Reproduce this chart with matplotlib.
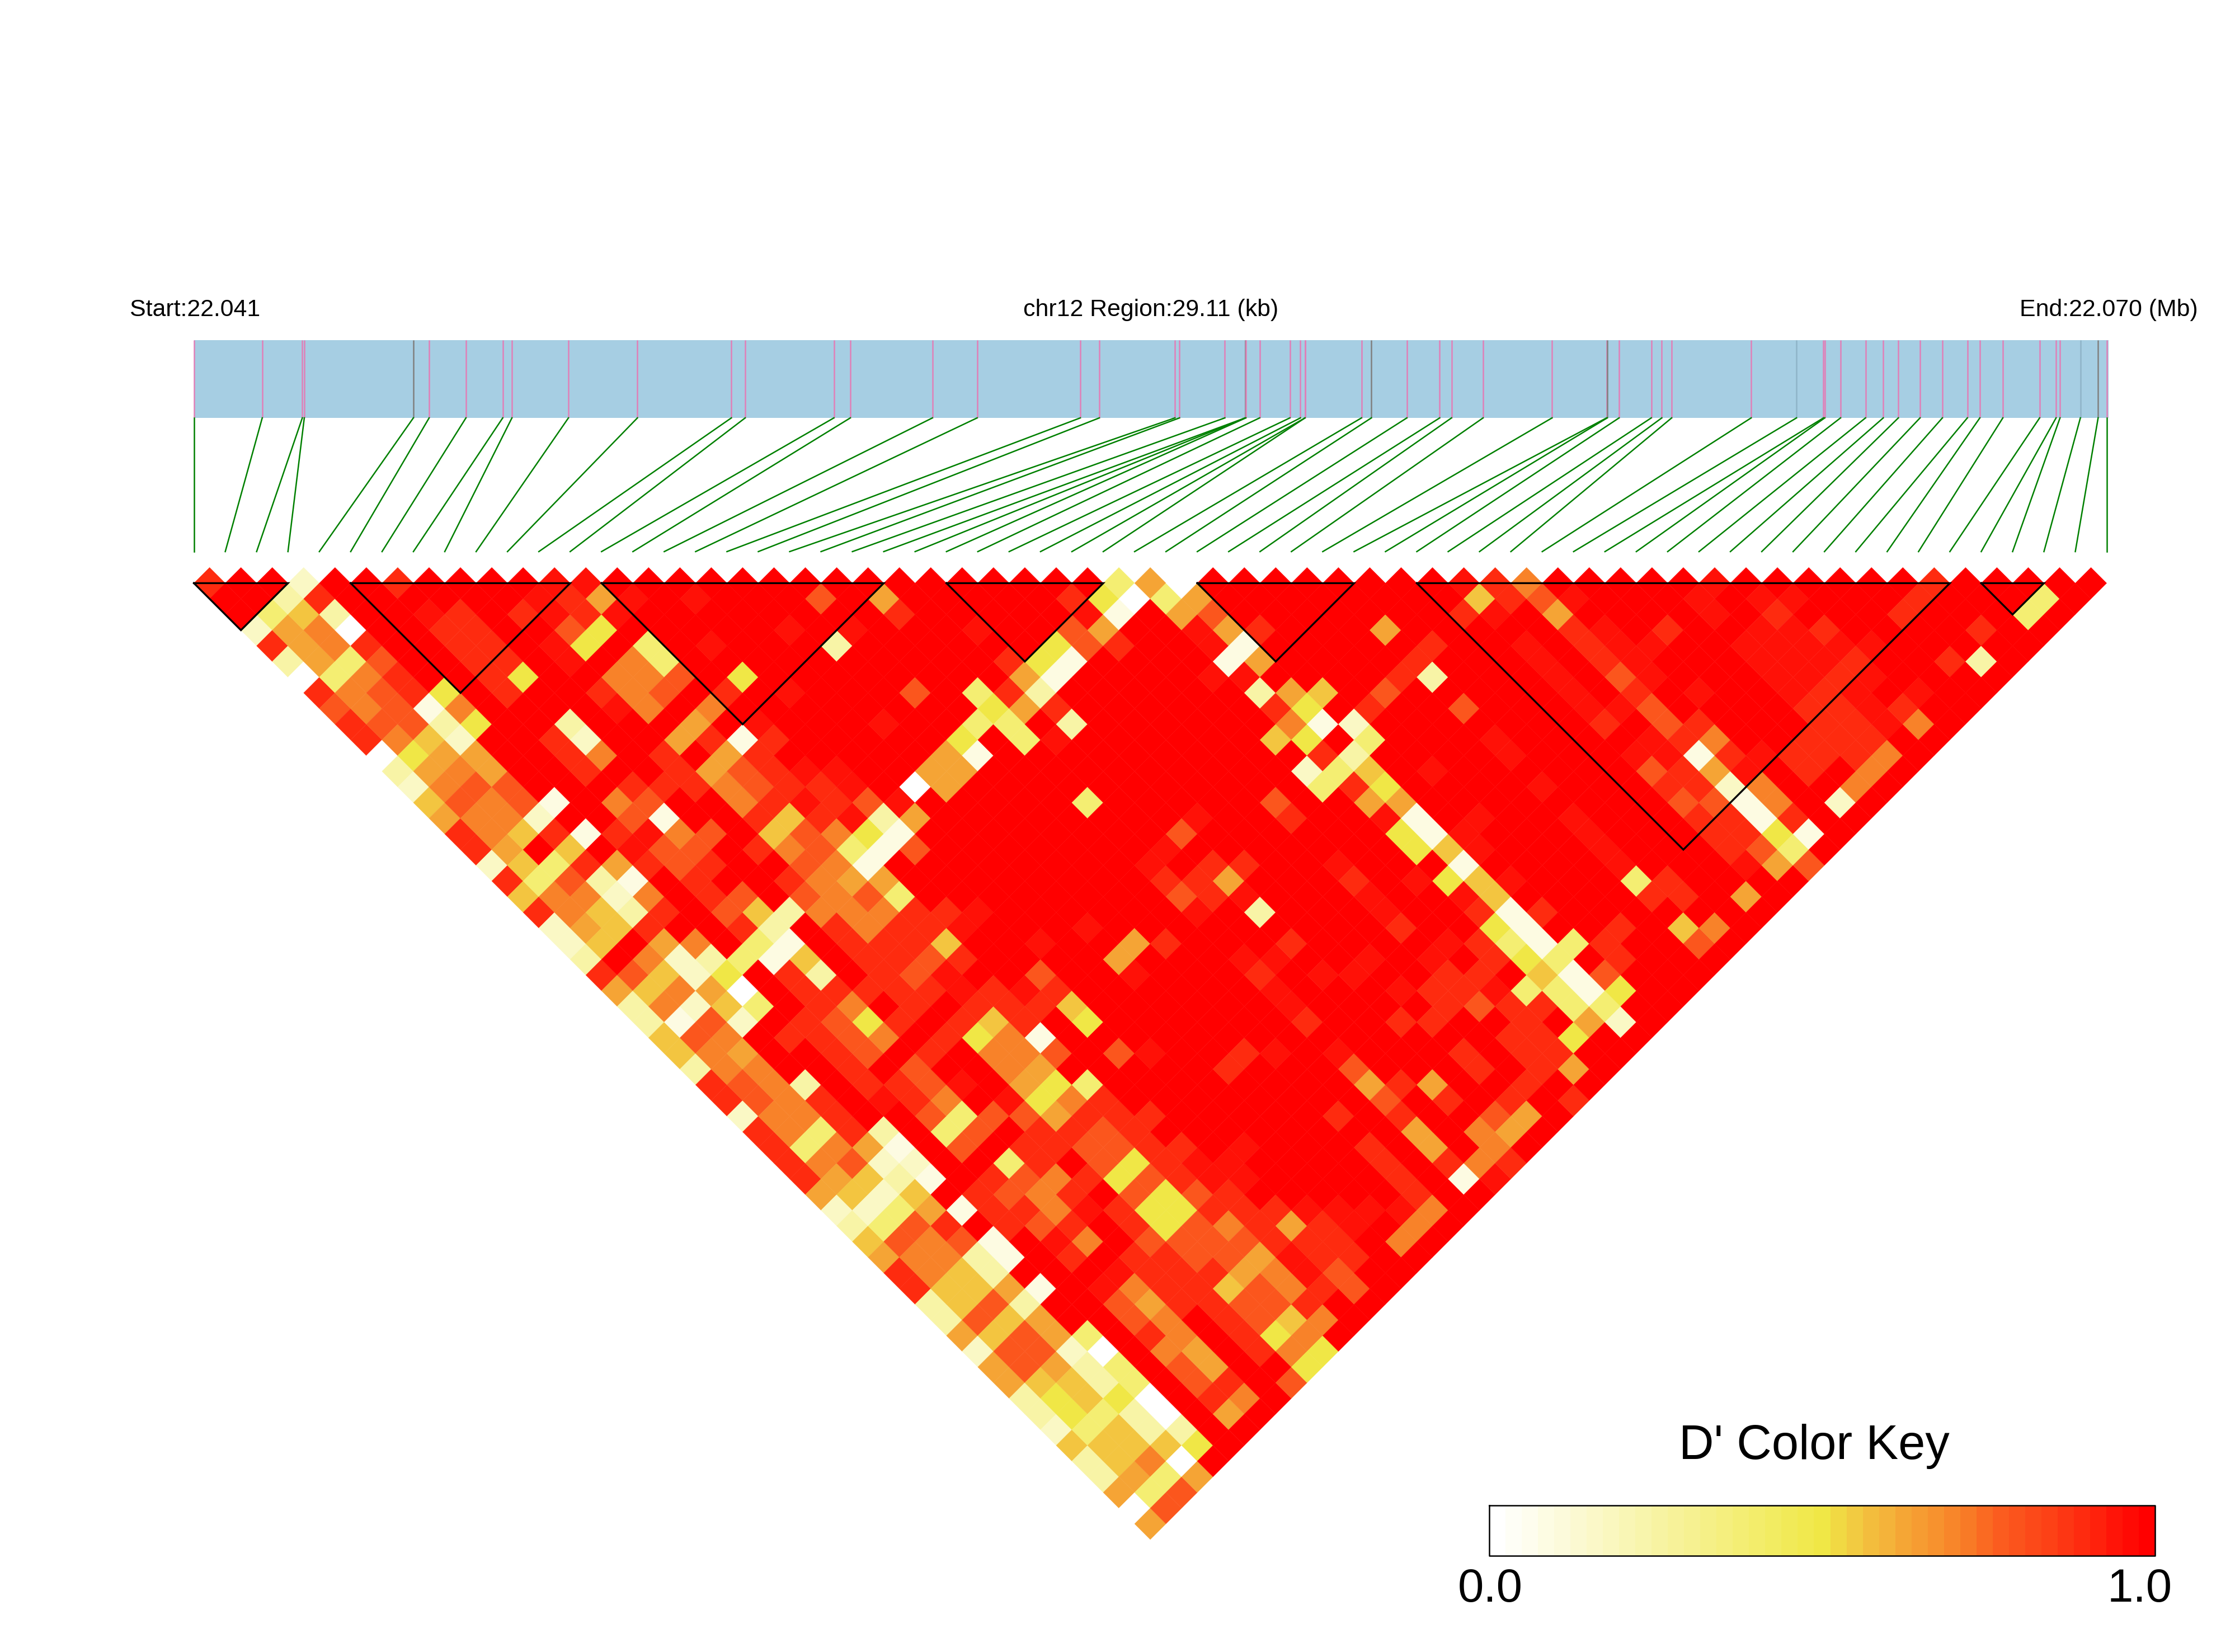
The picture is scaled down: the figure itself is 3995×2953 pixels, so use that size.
#!/usr/bin/env python3
# LD heatmap of chr12 region (D') with gene track and block outlines
import numpy as np
import matplotlib
matplotlib.use("Agg")
import matplotlib.pyplot as plt
from matplotlib.collections import PolyCollection
from matplotlib.colors import LinearSegmentedColormap

plt.rcParams['font.family'] = ['Liberation Sans', 'DejaVu Sans']

# SNP positions inside the region, kb from the start
snp_kb = [0.00, 1.04, 1.65, 1.68, 3.34, 3.58, 4.14, 4.70, 4.84, 5.70, 6.75, 8.18, 8.39,
          9.74, 9.99, 11.24, 11.92, 13.49, 13.78, 14.93, 15.00, 15.69, 16.00, 16.00, 16.01,
          16.22, 16.68, 16.84, 16.91, 16.91, 17.77, 17.92, 18.46, 18.96, 19.14, 19.62, 20.67,
          21.50, 21.51, 21.69, 22.18, 22.34, 22.49, 23.70, 24.39, 24.80, 24.82, 25.06, 25.44,
          25.71, 25.94, 26.27, 26.61, 26.99, 27.18, 27.53, 28.09, 28.34, 28.40, 28.71, 28.98, 29.11]
# these SNPs get a grey tick instead of a pink one
grey_snps = [4, 23, 31, 38, 60]
# and these one that nearly disappears in the bar
faint_snps = [44, 59]
region_kb = 29.11

# D' levels used by the codes below
code_values = {'0': 0.0, '1': 0.08, '2': 0.16, '3': 0.24, '4': 0.38, '5': 0.5, '6': 0.56,
               '7': 0.63, '8': 0.71, '9': 0.79, 'A': 0.90, 'B': 0.96}

# one string per SNP distance (1, 2, ...): "<first snp><code>", pairs not listed have D' = 1
dprime_by_distance = [
    "0A 32 6A 11B 12B 294 307 310 40B 41A 428 48B 55A",
    "23 3A 10B 11A 127 13B 15B 199 217 27A 285 290 304 317 406 41A 429 43B 47B 49B 50B 54A 584",
    "14 26 33 6B 7A 9A 10B 11A 12B 21A 27B 281 307 319 39A 40B 427 47B 49A 53A 574",
    "02 17 28 30 6A 7A 109 115 17B 19B 23B 269 277 30B 317 32A 367 42A 43B 45A 48B 49B 50A 55A",
    "0A 17 28 3A 6A 7A 9B 105 124 14B 183 255 269 27A 30B 311 37A 40B 42A 43B 44B 47B 48B 49B 50B 51B",
    "03 17 24 39 6A 7A 9B 118 124 23A 245 251 301 317 36A 40B 42A 43B 47B 48B 49B 50A 53A 543",
    "00 14 28 3A 6A 75 108 118 129 145 237 241 29B 30B 35A 363 40B 429 43B 47B 48B 49A 50B",
    "0A 18 29 3A 45 6A 9A 108 119 13A 15B 199 214 22A 233 303 317 326 349 40B 42A 44B 47B 48A 49B 51B",
    "09 18 29 31 48 9B 108 128 215 227 23A 30A 315 33A 369 40B 41B 429 47A 48A 49B 50A",
    "0A 19 29 33 45 73 117 13B 17B 204 214 233 308 311 322 40A 429 43A 47A 48A 49B 508",
    "0A 18 26 32 6A 72 107 11A 121 13A 195 214 22B 296 305 324 36B 41B 42A 438 46A 47A 48A",
    "00 15 27 37 6A 78 9A 117 12A 187 191 30A 313 36B 40B 41B 421 43A 44B 45A 46A 47A 488",
    "03 17 28 37 6A 9A 107 119 12A 13B 14B 177 187 292 304 316 33B 409 41A 427 43B 45A 478",
    "02 18 29 39 7A 8A 9A 108 119 12A 13A 14B 160 177 294 30A 315 36B 40A 41A 422 438 468",
    "06 19 28 39 41 68 79 108 11A 12B 13A 149 15B 214 279 307 317 409 419 421 438 452",
    "07 18 28 32 69 71 10A 116 12A 13B 143 157 24B 27A 30B 311 33B 36B 40A 41A 421 43A",
    "0A 18 26 3A 41 5A 6B 78 89 106 119 128 135 141 239 305 311 32B 36B 40A 41A 425 431",
    "0A 17 36 5B 69 79 9A 108 119 124 131 149 22B 305 316 32B 36B 40A 419 424",
    "02 16 24 3A 47 5A 69 7A 109 118 121 21B 23A 24A 27B 311 36B 40B 417 429",
    "0A 14 29 33 41 6A 9A 108 117 127 21A 22A 237 27A 29B 305 316 32B 364 37A",
    "06 18 28 32 48 6A 79 99 108 119 124 219 22A 23B 27B 30B 316 36A 37A 397",
    "0A 18 26 33 4A 69 76 83 98 108 118 12A 13A 14B 21B 233 27B 30A 311 32A",
    "02 17 26 3A 6A 73 9A 108 11A 12A 13B 17B 27A 305 311 34A 366 378",
    "02 16 37 48 64 71 9A 10A 11A 126 15B 187 19A 23A 28B 29A 304 311 324 33A 369",
    "03 28 32 43 54 61 76 9A 10A 119 12A 177 21B 22B 25B 27B 29A 305 314 33A",
    "0A 19 26 32 45 6A 73 9A 109 11B 149 17B 21A 23B 24B 27A 28A 306 311 329",
    "07 16 28 37 40 6A 7A 8A 9A 10A 11B 12A 13B 14A 21B 25B 26A 27A 28B 294 304 311 325",
    "03 18 22 36 44 6A 78 9A 11A 12A 13A 146 21B 26A 279 28A 29A 304 314",
    "03 11 29 32 5A 69 75 8A 10A 116 12A 145 21A 24A 25A 28A 307 312",
    "06 19 28 4A 5A 69 78 9A 105 118 121 27A 28A 295",
    "06 18 27 5A 69 8A 108 118 129 149 15B 18A 19B 21B 25A 27A 28A",
    "03 18 28 5A 79 108 117 17A 219 25A 27A 287",
    "0A 19 28 33 5A 6A 79 8B 107 115 124 217 22A 237 26A",
    "0A 19 28 3A 5B 6A 78 9B 105 118 12A 219 23A 25A 27A",
    "02 18 28 3A 69 74 89 99 107 11A 12A 13A 19A 21A 249 257",
    "0A 18 24 3A 43 64 79 9A 10A 119 12A 217 238 247",
    "0A 14 28 37 41 69 8A 9A 109 119 12A 13A 15B 19A 217 238",
    "0A 18 29 32 42 74 8A 109 115 12A 13B 14B 19A 21A 228 23A",
    "0A 17 26 33 41 6A 79 88 9A 105 119 12A 13B 14B 19A 211 22B",
    "07 16 22 36 5A 69 78 8A 109 115 129 13A 19A",
    "02 12 24 37 41 5A 6A 78 8B 9A 105 115 12A 13A 14A 15B 16B 17B 18B 198",
    "03 14 29 3A 5A 69 7A 9A 105 119 128 13A 147 15A 16B 188",
    "06 19 28 39 41 6B 78 99 109 119 129 13A 14A 15A 178",
    "07 18 28 33 41 6A 8A 9A 109 119 127 13B 14A 15A",
    "0A 18 26 33 7B 8A 9A 10A 117 128 13B 149",
    "0A 16 26 37 41 6B 78 8A 9A 106 119 128 13A 149",
    "03 16 29 33 69 77 8A 9A 109 119 12A",
    "03 19 26 37 69 78 9A 109 116 128",
    "07 16 29 37 44 6A 78 9A 105 118",
    "02 19 29 32 40 68 77 9A 108 115",
    "07 19 27 33 44 69 77 105",
    "07 16 26 33 44 69 7A 99",
    "03 15 26 35 40 6A 78",
    "03 15 24 33 40 67",
    "02 14 26 33 43",
    "06 16 26 36 45",
    "03 16 28 30",
    "03 17 24 37",
    "07 14 29",
    "00 19",
    "07",
]

# haplotype blocks, first and last SNP index
block_first = [0, 5, 13, 24, 32, 39, 57]
block_last = [3, 12, 22, 29, 37, 56, 59]

# colour key stops
key_stops = [0.0, 0.5, 0.56, 0.63, 0.715, 0.78, 0.87, 0.94, 1.0]
key_colors = ['#FFFFFF', '#F0E846', '#F3C540', '#F5A535', '#F88028', '#FB5A1E', '#FD3A14', '#FF1A0A', '#FF0000']

WIDTH, HEIGHT = 3995, 2953
LEFT, RIGHT = 346.6, 3765.6
n_snp = len(snp_kb)
step = (RIGHT - LEFT) / (n_snp - 1)  # spacing of snps along the top of the triangle
half = step / 2
TOP_ROW = 1042.4

dprime = np.ones((n_snp, n_snp))
for dist, row in enumerate(dprime_by_distance, start=1):
    for tok in row.split():
        first = int(tok[:-1])
        dprime[first, first + dist] = code_values[tok[-1]]

cmap = LinearSegmentedColormap.from_list('dprime', list(zip(key_stops, key_colors)))

fig = plt.figure(figsize=(WIDTH / 300, HEIGHT / 300), dpi=300)
ax = fig.add_axes([0, 0, 1, 1])
ax.set_xlim(0, WIDTH)
ax.set_ylim(HEIGHT, 0)
ax.axis('off')

# gene bar with snp ticks
BAR_TOP, BAR_BOT, LINE_BOT = 607.5, 747, 986
ax.fill_between([LEFT, RIGHT + 3], BAR_TOP, BAR_BOT, color='#A6CEE3', lw=0)
tick_x = LEFT + np.array(snp_kb) / region_kb * (RIGHT - LEFT)
for i, x in enumerate(tick_x):
    col = '#E080B8'
    if i in grey_snps:
        col = '#808080'
    if i in faint_snps:
        col = '#8FB4C8'
    ax.plot([x, x], [BAR_TOP, BAR_BOT], color=col, lw=0.6, solid_capstyle='butt')
    ax.plot([x, LEFT + i * step], [BAR_BOT, LINE_BOT], color='#008000', lw=0.6)

# heatmap cells
polys = []
vals = []
for i in range(n_snp):
    for j in range(i + 1, n_snp):
        cx = LEFT + (i + j) * half
        cy = TOP_ROW + (j - i - 1) * half
        polys.append([(cx - half, cy), (cx, cy - half), (cx + half, cy), (cx, cy + half)])
        vals.append(dprime[i, j])
cells = PolyCollection(polys, array=np.array(vals), cmap=cmap, clim=(0, 1),
                       edgecolors='face', linewidths=0.1)
ax.add_collection(cells)

# block outlines
for a, b in zip(block_first, block_last):
    x0 = LEFT + 2 * a * half
    x1 = LEFT + 2 * b * half
    tip_y = TOP_ROW + (b - a) * half
    ax.plot([x0, x1, (x0 + x1) / 2, x0], [TOP_ROW, TOP_ROW, tip_y, TOP_ROW], color='black', lw=0.8,
            solid_joinstyle='miter')

# header text
ax.text(232, 554, "Start:22.041", fontsize=10.3, ha='left', va='center')
ax.text(2057, 554, "chr12 Region:29.11 (kb)", fontsize=10.3, ha='center', va='center')
ax.text(3929, 554, "End:22.070 (Mb)", fontsize=10.3, ha='right', va='center')

# colour key, 41 flat bands
KEY_L, KEY_R, KEY_T, KEY_B = 2662, 3852, 2691, 2781
edges = np.linspace(KEY_L, KEY_R, 42)
band_vals = (np.arange(41) / 40).reshape(1, -1)
ax.pcolormesh(edges, [KEY_T, KEY_B], band_vals, cmap=cmap, vmin=0, vmax=1)
ax.plot([KEY_L, KEY_R, KEY_R, KEY_L, KEY_L], [KEY_T, KEY_T, KEY_B, KEY_B, KEY_T], color='black', lw=0.6)
ax.text(3243, 2586, "D' Color Key", fontsize=20.8, ha='center', va='center')
ax.text(2664, 2841, "0.0", fontsize=20, ha='center', va='center')
ax.text(3825, 2841, "1.0", fontsize=20, ha='center', va='center')

ax.set_xlim(0, WIDTH)
ax.set_ylim(HEIGHT, 0)
fig.savefig('out.png', dpi=300)
plt.close(fig)
